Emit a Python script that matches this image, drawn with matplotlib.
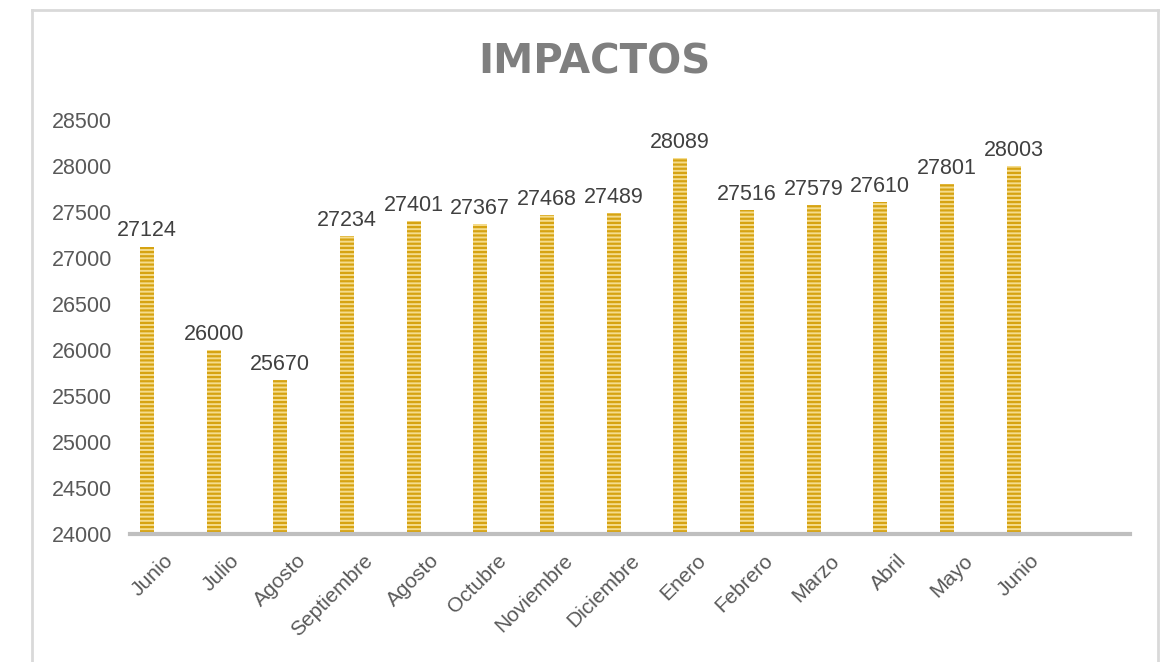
import matplotlib
matplotlib.use("Agg")
import matplotlib.pyplot as plt
from matplotlib.lines import Line2D

categories = ["Junio", "Julio", "Agosto", "Septiembre", "Agosto", "Octubre", "Noviembre",
              "Diciembre", "Enero", "Febrero", "Marzo", "Abril", "Mayo", "Junio", ""]
values = [27124, 26000, 25670, 27234, 27401, 27367, 27468, 27489, 28089, 27516, 27579,
          27610, 27801, 28003]
y_ticks = list(range(24000, 28501, 500))
title = "IMPACTOS"

plt.rcParams['hatch.linewidth'] = 1.6
fig = plt.figure(figsize=(11.6, 6.62), dpi=100)
ax = fig.add_axes([0.112, 0.193, 0.862, 0.626])

n = len(categories)
xs = list(range(len(values)))
bar_x = [x - 0.245 for x in xs]
bars = ax.bar(bar_x, values, width=0.21, bottom=0, color="#F5DC8C",
              edgecolor="#D6A312", linewidth=0, hatch="----", zorder=2)
for bx, v in zip(bar_x, values):
    ax.text(bx, v + 55, str(v), ha="center", va="bottom", fontsize=15.5,
            color="#404040", family="Liberation Sans")

ax.set_xlim(-0.5, n - 0.5)
ax.set_ylim(24000, 28500)
ax.set_yticks(y_ticks)
ax.set_yticklabels([str(t) for t in y_ticks], fontsize=15.5, color="#595959",
                   family="Liberation Sans")
ax.set_xticks(range(n))
ax.set_xticklabels(categories, rotation=45, ha="right", rotation_mode="anchor",
                   fontsize=15, color="#595959", family="Liberation Sans")
ax.tick_params(axis="both", length=0)
ax.tick_params(axis="y", pad=13)
ax.tick_params(axis="x", pad=12)
for s in ["top", "right", "left"]:
    ax.spines[s].set_visible(False)
ax.spines["bottom"].set_color("#BFBFBF")
ax.spines["bottom"].set_linewidth(3)

fig.text(0.512, 0.905, title, ha="center", va="center", fontsize=29,
         fontweight="bold", color="#7F7F7F", family="DejaVu Sans")

# chart frame
fc = "#D9D9D9"
fig.add_artist(Line2D([32/1160, 32/1160], [0, 1 - 10/662], color=fc, lw=2, transform=fig.transFigure))
fig.add_artist(Line2D([32/1160, 1158/1160], [1 - 10/662, 1 - 10/662], color=fc, lw=2, transform=fig.transFigure))
fig.add_artist(Line2D([1158/1160, 1158/1160], [0, 1 - 10/662], color=fc, lw=2, transform=fig.transFigure))

fig.savefig("out.png", dpi=100, facecolor="white")
